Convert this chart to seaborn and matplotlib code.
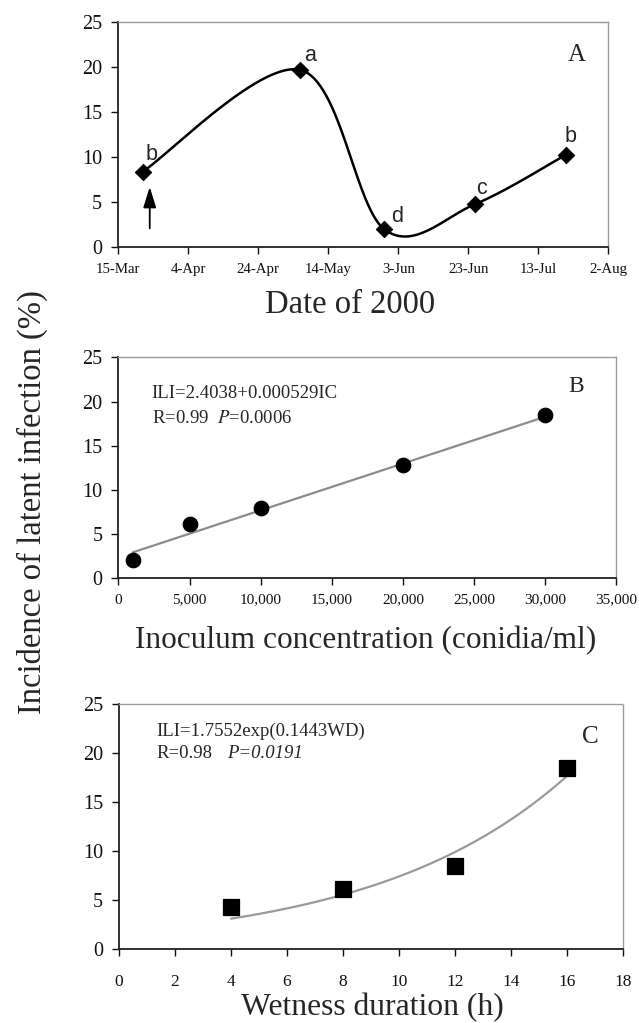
import numpy as np
import pandas as pd
import matplotlib
matplotlib.use('Agg')
import matplotlib.pyplot as plt
import matplotlib.dates as mdates
import seaborn as sns

# ---------------- data ----------------
dates_a = ['2000-03-22', '2000-05-06', '2000-05-30', '2000-06-25', '2000-07-21']
ili_a = [8.4, 19.7, 2.0, 4.8, 10.3]
letters_a = ['b', 'a', 'd', 'c', 'b']
tick_dates_a = ['2000-03-15', '2000-04-04', '2000-04-24', '2000-05-14',
                '2000-06-03', '2000-06-23', '2000-07-13', '2000-08-02']
tick_labels_a = ['15-Mar', '4-Apr', '24-Apr', '14-May', '3-Jun', '23-Jun', '13-Jul', '2-Aug']
arrow_date = '2000-03-24'

conc_b = [1000, 5000, 10000, 20000, 30000]
ili_b = [2.1, 6.1, 7.9, 12.8, 18.5]
b_intercept, b_slope = 2.4038, 0.000529
ticks_b = [0, 5000, 10000, 15000, 20000, 25000, 30000, 35000]

wd_c = [4, 8, 12, 16]
ili_c = [4.35, 6.1, 8.5, 18.45]
c_coef, c_rate = 1.7552, 0.1443
ticks_c = [0, 2, 4, 6, 8, 10, 12, 14, 16, 18]

y_ticks = [0, 5, 10, 15, 20, 25]

# ---------------- style ----------------
sns.set_style('white')
plt.rcParams['font.family'] = ['Liberation Serif', 'DejaVu Serif']
plt.rcParams['mathtext.fontset'] = 'stix'

fig = plt.figure(figsize=(6.39, 10.23), dpi=100)
axA = fig.add_axes([0.185, 0.7583, 0.767, 0.22])
axB = fig.add_axes([0.1854, 0.4347, 0.779, 0.216])
axC = fig.add_axes([0.1862, 0.072, 0.7887, 0.2398])


def frame(ax, xfs, xpad):
    for s in ['top', 'right']:
        ax.spines[s].set_color('#9a9a9a')
        ax.spines[s].set_linewidth(1.0)
        ax.spines[s].set_linestyle((0, (2, 1)))
    for s in ['left', 'bottom']:
        ax.spines[s].set_color('#222222')
        ax.spines[s].set_linewidth(1.3)
    ax.tick_params(axis='y', which='both', left=True, direction='out', length=5,
                   width=1, labelsize=14.5, pad=6.5, colors='#111111')
    ax.tick_params(axis='x', which='both', bottom=True, direction='out', length=5,
                   width=1, labelsize=xfs, pad=xpad, colors='#111111')
    ax.set_ylim(0, 25)
    ax.set_yticks(y_ticks)
    ax.set_xlabel('')
    ax.set_ylabel('')


# ---------------- panel A ----------------
xa = mdates.date2num(pd.to_datetime(dates_a).to_pydatetime())
pts = np.column_stack([xa, ili_a])
ext = np.vstack([pts[0], pts, pts[-1]])
curve = []
t = np.linspace(0, 1, 60)
for i in range(1, len(ext) - 2):
    p0, p3 = ext[i], ext[i + 1]
    c1 = p0 + (ext[i + 1] - ext[i - 1]) / 6.0
    c2 = p3 - (ext[i + 2] - ext[i]) / 6.0
    seg = ((1 - t) ** 3)[:, None] * p0 + (3 * (1 - t) ** 2 * t)[:, None] * c1 + \
          (3 * (1 - t) * t ** 2)[:, None] * c2 + (t ** 3)[:, None] * p3
    curve.append(seg)
curve = np.vstack(curve)
dfA_line = pd.DataFrame({'x': curve[:, 0], 'y': curve[:, 1]})
dfA = pd.DataFrame({'x': xa, 'y': ili_a})
sns.lineplot(data=dfA_line, x='x', y='y', ax=axA, color='black', lw=1.8,
             sort=False, estimator=None)
sns.scatterplot(data=dfA, x='x', y='y', ax=axA, marker='D', s=70, color='black',
                edgecolor='black', zorder=5)
offsets = [(6.5, 12), (6.7, 10.5), (9.1, 9.1), (4.5, 11), (2.9, 13.2)]
for xv, yv, lab, off in zip(xa, ili_a, letters_a, offsets):
    axA.annotate(lab, (xv, yv), xytext=off, textcoords='offset points', ha='center',
                 va='center', fontsize=15.5, family=['Liberation Sans', 'DejaVu Sans'])
ad = mdates.date2num(pd.to_datetime(arrow_date).to_pydatetime())
axA.annotate('', xy=(ad, 6.7), xytext=(ad, 2.1),
             arrowprops=dict(arrowstyle='-|>,head_length=0.9,head_width=0.28',
                             color='black', lw=1.3, mutation_scale=14,
                             shrinkA=0, shrinkB=0))
tdn = mdates.date2num(pd.to_datetime(tick_dates_a).to_pydatetime())
axA.set_xlim(tdn[0], tdn[-1])
axA.set_xticks(tdn)
axA.set_xticklabels(tick_labels_a)
frame(axA, 10.7, 6)
axA.text(0.9355, 0.855, 'A', transform=axA.transAxes, fontsize=18, ha='center', va='center')

# ---------------- panel B ----------------
dfB = pd.DataFrame({'x': conc_b, 'y': ili_b})
xfit = np.array([conc_b[0], conc_b[-1]])
dfB_fit = pd.DataFrame({'x': xfit, 'y': b_intercept + b_slope * xfit})
sns.lineplot(data=dfB_fit, x='x', y='y', ax=axB, color='#8c8c8c', lw=1.6)
sns.scatterplot(data=dfB, x='x', y='y', ax=axB, marker='o', s=110, color='black',
                edgecolor='black', zorder=5)
axB.set_xlim(0, 35000)
axB.set_xticks(ticks_b)
axB.set_xticklabels([f'{v:,}' for v in ticks_b])
frame(axB, 11, 6)
axB.text(0.92, 0.87, 'B', transform=axB.transAxes, fontsize=17, ha='center', va='center')
axB.text(0.0667, 0.837, 'ILI=2.4038+0.000529IC', transform=axB.transAxes, fontsize=13.5,
         ha='left', va='center')
axB.text(0.0667, 0.724, r'R=0.99  $\mathit{P}$=0.0006', transform=axB.transAxes, fontsize=13.5,
         ha='left', va='center')

# ---------------- panel C ----------------
dfC = pd.DataFrame({'x': wd_c, 'y': ili_c})
xc = np.linspace(wd_c[0], wd_c[-1], 100)
dfC_fit = pd.DataFrame({'x': xc, 'y': c_coef * np.exp(c_rate * xc)})
sns.lineplot(data=dfC_fit, x='x', y='y', ax=axC, color='#9a9a9a', lw=1.6)
sns.scatterplot(data=dfC, x='x', y='y', ax=axC, marker='s', s=125, color='black',
                edgecolor='black', zorder=5)
axC.set_xlim(0, 18)
axC.set_xticks(ticks_c)
axC.set_xticklabels([str(v) for v in ticks_c])
frame(axC, 12.5, 13)
axC.text(0.9345, 0.867, 'C', transform=axC.transAxes, fontsize=18, ha='center', va='center')
axC.text(0.0748, 0.887, 'ILI=1.7552exp(0.1443WD)', transform=axC.transAxes, fontsize=13.5,
         ha='left', va='center')
axC.text(0.0748, 0.799, 'R=0.98', transform=axC.transAxes, fontsize=13.5,
         ha='left', va='center')
axC.text(0.2137, 0.799, 'P=0.0191', transform=axC.transAxes, fontsize=13.5, style='italic',
         ha='left', va='center')

# ---------------- labels ----------------
fig.text(0.548, 0.6943, 'Date of 2000', fontsize=23.5, ha='center', va='baseline')
fig.text(0.5728, 0.3666, 'Inoculum concentration (conidia/ml)', fontsize=22.5,
         ha='center', va='baseline')
fig.text(0.5832, 0.0075, 'Wetness duration (h)', fontsize=22.8, ha='center', va='baseline')
fig.text(0.05, 0.509, 'Incidence of latent infection (%)', fontsize=23.5, rotation=90,
         ha='center', va='center')

fig.savefig('out.png', dpi=100, facecolor='white')
